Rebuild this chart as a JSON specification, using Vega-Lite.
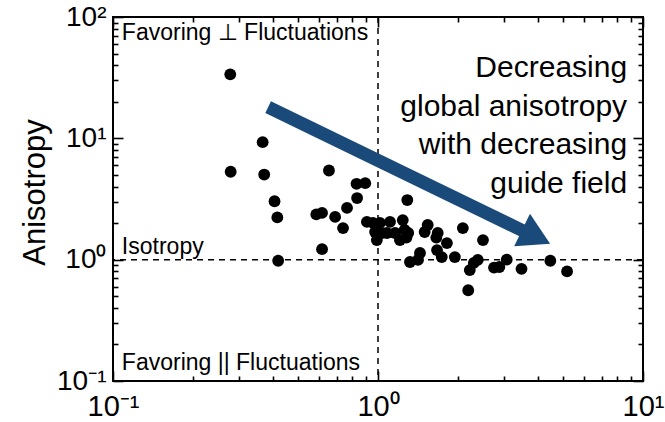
{
  "$schema": "https://vega.github.io/schema/vega-lite/v6.json",
  "width": 530,
  "height": 364,
  "autosize": {"type": "none"},
  "padding": {"left": 113, "top": 17, "right": 22, "bottom": 41},
  "background": "white",
  "config": {
    "view": {"stroke": "black", "strokeWidth": 2},
    "font": "Liberation Sans",
    "axis": {
      "grid": false,
      "domain": false,
      "tickColor": "black",
      "tickWidth": 1.6,
      "labelColor": "black",
      "labelFont": "Liberation Sans",
      "titleFont": "Liberation Sans",
      "titleColor": "black",
      "titleFontWeight": "normal"
    }
  },
  "datasets": {
    "runs": [
      {"guide": 0.277, "anisotropy": 33.7},
      {"guide": 0.367, "anisotropy": 9.3},
      {"guide": 0.278, "anisotropy": 5.3},
      {"guide": 0.372, "anisotropy": 5.03},
      {"guide": 0.653, "anisotropy": 5.43},
      {"guide": 0.407, "anisotropy": 3.03},
      {"guide": 0.417, "anisotropy": 2.23},
      {"guide": 0.42, "anisotropy": 0.98},
      {"guide": 0.585, "anisotropy": 2.36},
      {"guide": 0.615, "anisotropy": 2.43},
      {"guide": 0.615, "anisotropy": 1.22},
      {"guide": 0.689, "anisotropy": 2.25},
      {"guide": 0.738, "anisotropy": 1.82},
      {"guide": 0.764, "anisotropy": 2.67},
      {"guide": 0.834, "anisotropy": 3.22},
      {"guide": 0.83, "anisotropy": 4.22},
      {"guide": 0.895, "anisotropy": 4.27},
      {"guide": 0.908, "anisotropy": 2.05},
      {"guide": 0.957, "anisotropy": 2.01},
      {"guide": 0.975, "anisotropy": 1.69},
      {"guide": 0.99, "anisotropy": 1.45},
      {"guide": 1.017, "anisotropy": 2.01},
      {"guide": 1.035, "anisotropy": 1.66},
      {"guide": 1.081, "anisotropy": 1.66},
      {"guide": 1.11, "anisotropy": 2.05},
      {"guide": 1.16, "anisotropy": 1.66},
      {"guide": 1.21, "anisotropy": 1.45},
      {"guide": 1.24, "anisotropy": 2.12},
      {"guide": 1.26, "anisotropy": 1.76},
      {"guide": 1.28, "anisotropy": 1.52},
      {"guide": 1.3, "anisotropy": 1.66},
      {"guide": 1.29, "anisotropy": 3.1},
      {"guide": 1.32, "anisotropy": 0.957},
      {"guide": 1.44, "anisotropy": 1.135},
      {"guide": 1.416, "anisotropy": 0.995},
      {"guide": 1.54, "anisotropy": 1.93},
      {"guide": 1.5, "anisotropy": 1.69},
      {"guide": 1.68, "anisotropy": 1.66},
      {"guide": 1.66, "anisotropy": 1.52},
      {"guide": 1.67, "anisotropy": 1.2},
      {"guide": 1.74, "anisotropy": 1.05},
      {"guide": 1.82, "anisotropy": 1.37},
      {"guide": 1.95, "anisotropy": 1.05},
      {"guide": 2.09, "anisotropy": 1.82},
      {"guide": 2.49, "anisotropy": 1.45},
      {"guide": 2.38, "anisotropy": 0.995},
      {"guide": 2.3, "anisotropy": 0.94},
      {"guide": 2.22, "anisotropy": 0.82},
      {"guide": 2.19, "anisotropy": 0.56},
      {"guide": 2.74, "anisotropy": 0.86},
      {"guide": 2.87, "anisotropy": 0.87},
      {"guide": 3.06, "anisotropy": 1.0},
      {"guide": 3.48, "anisotropy": 0.84},
      {"guide": 4.47, "anisotropy": 0.98},
      {"guide": 5.17, "anisotropy": 0.8}
    ],
    "regions": [
      {"guide": 0.108, "anisotropy": 64.7, "note": "Favoring ⊥ Fluctuations"},
      {"guide": 0.108, "anisotropy": 1.114, "note": "Isotropy"},
      {"guide": 0.108, "anisotropy": 0.1233, "note": "Favoring || Fluctuations"}
    ],
    "trend": [
      {"guide": 8.71, "anisotropy": 32.0, "note": "Decreasing\nglobal anisotropy\nwith decreasing\nguide field"}
    ],
    "shaft": [
      {"step": 0, "guide": 0.385, "anisotropy": 18.1},
      {"step": 1, "guide": 3.75, "anisotropy": 1.62}
    ],
    "head": [
      {"guide": 3.95, "anisotropy": 1.54}
    ]
  },
  "layer": [
    {
      "data": {"name": "runs"},
      "mark": {"type": "circle", "size": 140, "opacity": 1, "color": "black"},
      "encoding": {
        "x": {
          "field": "guide", "type": "quantitative",
          "scale": {"type": "log", "domain": [0.1, 10], "nice": false},
          "axis": {
            "orient": "bottom", "values": [0.1, 1, 10], "tickSize": -10,
            "labelExpr": "datum.value < 0.5 ? '10⁻¹' : datum.value < 5 ? '10⁰' : '10¹'",
            "labelFontSize": 29, "labelPadding": 21, "labelFlush": false, "labelOverlap": false,
            "title": null
          }
        },
        "y": {
          "field": "anisotropy", "type": "quantitative",
          "scale": {"type": "log", "domain": [0.1, 100], "nice": false},
          "axis": {
            "orient": "left", "values": [0.1, 1, 10, 100], "tickSize": -10,
            "labelExpr": "datum.value < 0.5 ? '10⁻¹' : datum.value < 5 ? '10⁰' : datum.value < 50 ? '10¹' : '10²'",
            "labelFontSize": 28, "labelPadding": 17, "labelFlush": false, "labelOverlap": false,
            "title": "Anisotropy", "titleFontSize": 31, "titlePadding": 5, "titleY": 175
          }
        }
      }
    },
    {
      "data": {"values": [{"guide": 1}]},
      "mark": {"type": "rule", "color": "black", "strokeWidth": 1.5, "strokeDash": [6, 5]},
      "encoding": {
        "x": {
          "field": "guide", "type": "quantitative",
          "scale": {"type": "log", "domain": [0.1, 10], "nice": false},
          "axis": {
            "orient": "bottom", "values": [0.2, 0.3, 0.4, 0.5, 0.6, 0.7, 0.8, 0.9, 2, 3, 4, 5, 6, 7, 8, 9],
            "tickSize": -5, "labels": false, "title": null
          }
        }
      }
    },
    {
      "data": {"values": [{"anisotropy": 1}]},
      "mark": {"type": "rule", "color": "black", "strokeWidth": 1.5, "strokeDash": [6, 5]},
      "encoding": {
        "y": {
          "field": "anisotropy", "type": "quantitative",
          "scale": {"type": "log", "domain": [0.1, 100], "nice": false},
          "axis": {
            "orient": "left", "values": [0.2, 0.3, 0.4, 0.5, 0.6, 0.7, 0.8, 0.9, 2, 3, 4, 5, 6, 7, 8, 9, 20, 30, 40, 50, 60, 70, 80, 90],
            "tickSize": -5, "labels": false, "title": null
          }
        }
      }
    },
    {
      "data": {"name": "regions"},
      "mark": {"type": "text", "align": "left", "baseline": "alphabetic", "fontSize": 23, "color": "black"},
      "encoding": {
        "x": {
          "field": "guide", "type": "quantitative",
          "scale": {"type": "log", "domain": [0.1, 10], "nice": false},
          "axis": {"orient": "top", "values": [0.1, 1, 10], "tickSize": -10, "labels": false, "title": null}
        },
        "y": {
          "field": "anisotropy", "type": "quantitative",
          "scale": {"type": "log", "domain": [0.1, 100], "nice": false},
          "axis": {"orient": "right", "values": [0.1, 1, 10, 100], "tickSize": -10, "labels": false, "title": null}
        },
        "text": {"field": "note", "type": "nominal"}
      }
    },
    {
      "data": {"name": "shaft"},
      "mark": {"type": "line", "color": "#1a4a7a", "strokeWidth": 13, "strokeCap": "butt"},
      "encoding": {
        "x": {
          "field": "guide", "type": "quantitative",
          "scale": {"type": "log", "domain": [0.1, 10], "nice": false},
          "axis": {
            "orient": "top", "values": [0.2, 0.3, 0.4, 0.5, 0.6, 0.7, 0.8, 0.9, 2, 3, 4, 5, 6, 7, 8, 9],
            "tickSize": -5, "labels": false, "title": null
          }
        },
        "y": {
          "field": "anisotropy", "type": "quantitative",
          "scale": {"type": "log", "domain": [0.1, 100], "nice": false},
          "axis": {
            "orient": "right", "values": [0.2, 0.3, 0.4, 0.5, 0.6, 0.7, 0.8, 0.9, 2, 3, 4, 5, 6, 7, 8, 9, 20, 30, 40, 50, 60, 70, 80, 90],
            "tickSize": -5, "labels": false, "title": null
          }
        },
        "order": {"field": "step", "type": "quantitative"}
      }
    },
    {
      "data": {"name": "head"},
      "mark": {"type": "point", "shape": "triangle-right", "filled": true, "opacity": 1, "color": "#1a4a7a", "size": 1300, "angle": 26},
      "encoding": {
        "x": {"field": "guide", "type": "quantitative", "scale": {"type": "log", "domain": [0.1, 10], "nice": false}, "axis": null},
        "y": {"field": "anisotropy", "type": "quantitative", "scale": {"type": "log", "domain": [0.1, 100], "nice": false}, "axis": null}
      }
    },
    {
      "data": {"name": "trend"},
      "mark": {"type": "text", "align": "right", "baseline": "alphabetic", "fontSize": 30, "lineHeight": 38.5, "lineBreak": "\n", "color": "black"},
      "encoding": {
        "x": {"field": "guide", "type": "quantitative", "scale": {"type": "log", "domain": [0.1, 10], "nice": false}, "axis": null},
        "y": {"field": "anisotropy", "type": "quantitative", "scale": {"type": "log", "domain": [0.1, 100], "nice": false}, "axis": null},
        "text": {"field": "note", "type": "nominal"}
      }
    }
  ],
  "resolve": {"axis": {"x": "independent", "y": "independent"}}
}
